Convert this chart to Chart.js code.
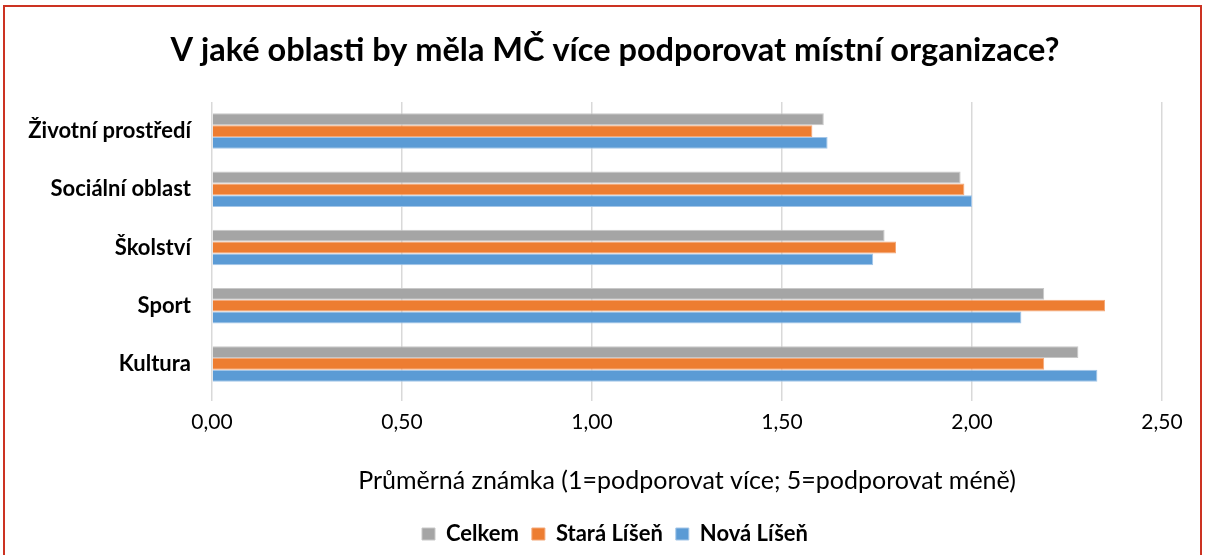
<!DOCTYPE html>
<html>
<head>
  <meta charset="UTF-8">
  <title>Podpora místních organizací</title>
  <script src="https://cdn.jsdelivr.net/npm/chart.js"></script>
  <style>
    body { margin: 0; background: #fff; font-family: Lato, sans-serif; }
    #wrap { position: relative; width: 1206px; height: 555px; }
    #frame {
      position: absolute; left: 3px; top: 5px; width: 1199px; height: 560px;
      border: 2px solid #cc3322; box-sizing: border-box;
    }
    canvas { position: absolute; left: 0; top: 0; }
  </style>
</head>
<body>
  <div id="wrap">
    <div id="frame"></div>
    <canvas id="chart" width="1206" height="555"></canvas>
  </div>
  <script>
    const categories = ["Životní prostředí", "Sociální oblast", "Školství", "Sport", "Kultura"];
    const celkem = [1.61, 1.97, 1.77, 2.19, 2.28];
    const staraLisen = [1.58, 1.98, 1.80, 2.35, 2.19];
    const novaLisen = [1.62, 2.00, 1.74, 2.13, 2.33];
    const xTicks = [0, 0.5, 1, 1.5, 2, 2.5];

    const fmt = v => v.toFixed(2).replace(".", ",");

    // title + legend sit a bit right of the canvas centre in the original
    const shiftBlocks = {
      id: "shiftBlocks",
      afterLayout(chart) {
        [chart.titleBlock, chart.legend].forEach(b => { if (b) b.left = 68; });
      }
    };

    new Chart(document.getElementById("chart"), {
      type: "bar",
      data: {
        labels: categories,
        datasets: [
          { label: "Celkem", data: celkem, backgroundColor: "#a5a5a5", borderColor: "#c8c8c8" },
          { label: "Stará Líšeň", data: staraLisen, backgroundColor: "#ed7d31", borderColor: "#f4a878" },
          { label: "Nová Líšeň", data: novaLisen, backgroundColor: "#5b9bd5", borderColor: "#a4c6e8" }
        ]
      },
      options: {
        indexAxis: "y",
        responsive: false,
        animation: false,
        datasets: { bar: { categoryPercentage: 0.61, barPercentage: 1.0, borderWidth: 1 } },
        layout: { padding: { left: 0, right: 44, top: 0, bottom: 0 } },
        plugins: {
          title: {
            display: true,
            text: "V jaké oblasti by měla MČ více podporovat místní organizace?",
            color: "#000",
            font: { family: "Lato", size: 32.5, weight: "bold" },
            padding: { top: 31, bottom: 32 }
          },
          legend: {
            position: "bottom",
            labels: {
              color: "#000",
              boxWidth: 13, boxHeight: 12,
              font: { family: "Lato", size: 22, weight: "bold" },
              padding: 13
            }
          },
          tooltip: { enabled: false }
        },
        scales: {
          x: {
            min: 0, max: 2.5,
            afterBuildTicks: s => { s.ticks = xTicks.map(v => ({ value: v })); },
            afterFit: s => { s.height = 117; },
            ticks: { callback: v => fmt(v), color: "#000", font: { family: "Lato", size: 21 }, padding: 9 },
            grid: { color: "#d9d9d9", lineWidth: 1.5, tickLength: 8 },
            border: { display: false },
            title: {
              display: true,
              text: "Průměrná známka (1=podporovat více; 5=podporovat méně)",
              color: "#000",
              font: { family: "Lato", size: 25 },
              padding: { top: 12, bottom: 14 }
            }
          },
          y: {
            afterFit: s => { s.width = 212; },
            ticks: { color: "#000", font: { family: "Lato", size: 22, weight: "bold" }, padding: 13 },
            grid: { display: false },
            border: { display: false }
          }
        }
      },
      plugins: [shiftBlocks]
    });
  </script>
</body>
</html>
